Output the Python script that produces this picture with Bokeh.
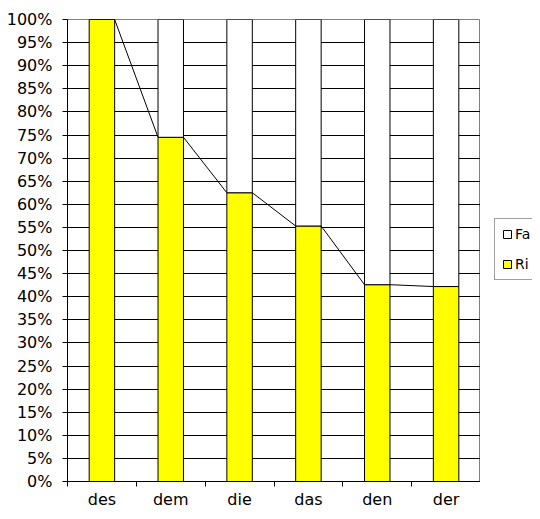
from bokeh.plotting import figure
from bokeh.layouts import row
from bokeh.models import FixedTicker, PrintfTickFormatter, Legend, LegendItem, ColumnDataSource
from bokeh.embed import file_html
from bokeh.resources import INLINE

# ---- data ----
categories = ["des", "dem", "die", "das", "den", "der"]
ri_values = [100.0, 74.5, 62.5, 55.3, 42.6, 42.2]
fa_values = [100.0 - v for v in ri_values]
y_ticks = list(range(0, 101, 5))
series_names = ["Fa", "Ri"]

BAR_W = 0.37
FONT = "DejaVu Sans"
RI_COLOR = "#FFFF00"
FA_COLOR = "white"

xs = list(range(len(categories)))
src = ColumnDataSource(dict(x=xs, ri=ri_values, fa=fa_values,
                            fa_bottom=ri_values,
                            fa_top=[r + f for r, f in zip(ri_values, fa_values)]))

p = figure(width=480, height=511, output_backend="svg", toolbar_location=None,
           x_range=(-0.5, len(categories) - 0.5), y_range=(0, 100),
           min_border_left=67, min_border_right=0, min_border_top=19,
           min_border_bottom=27)
p.background_fill_color = "white"
p.border_fill_color = "white"
p.outline_line_color = "#808080"
p.outline_line_width = 1

# grid
p.xgrid.visible = False
p.ygrid.ticker = FixedTicker(ticks=y_ticks)
p.ygrid.grid_line_color = "black"
p.ygrid.grid_line_width = 1

# bars
r_ri = p.vbar(x="x", bottom=0, top="ri", width=BAR_W, source=src,
              fill_color=RI_COLOR, line_color="black", line_width=1)
r_fa = p.vbar(x="x", bottom="fa_bottom", top="fa_top", width=BAR_W, source=src,
              fill_color=FA_COLOR, line_color="black", line_width=1)

# series lines connecting bar tops
lx, ly = [], []
for i in range(len(categories) - 1):
    lx.append([xs[i] + BAR_W / 2, xs[i + 1] - BAR_W / 2])
    ly.append([ri_values[i], ri_values[i + 1]])
p.multi_line(xs=lx, ys=ly, line_color="black", line_width=1)

# y axis
p.yaxis.ticker = FixedTicker(ticks=y_ticks)
p.yaxis.formatter = PrintfTickFormatter(format="%d%%")
p.yaxis.axis_line_color = "black"
p.yaxis.major_tick_line_color = "black"
p.yaxis.major_tick_out = 5
p.yaxis.major_tick_in = 0
p.yaxis.minor_tick_line_color = None
p.yaxis.major_label_standoff = 10
p.yaxis.major_label_text_font = FONT
p.yaxis.major_label_text_font_size = "16px"
p.yaxis.major_label_text_color = "black"

# x axis: labels at centers, ticks at boundaries
p.xaxis.ticker = FixedTicker(ticks=xs,
                             minor_ticks=[i - 0.5 for i in range(len(categories) + 1)])
p.xaxis.major_label_overrides = {i: c for i, c in enumerate(categories)}
p.xaxis.axis_line_color = "black"
p.xaxis.major_tick_line_color = None
p.xaxis.major_tick_out = 0
p.xaxis.major_tick_in = 0
p.xaxis.minor_tick_line_color = "black"
p.xaxis.minor_tick_out = 5
p.xaxis.minor_tick_in = 0
p.xaxis.major_label_standoff = 3
p.xaxis.major_label_text_font = FONT
p.xaxis.major_label_text_font_size = "16px"
p.xaxis.major_label_text_color = "black"

# legend figure (separate narrow panel to the right); its bar renderers use the
# same data but the view range is placed away from them, so only the legend shows
pl = figure(width=52, height=511, output_backend="svg", toolbar_location=None,
            x_axis_location=None, y_axis_location=None,
            x_range=(-100, -99), y_range=(-100, -99),
            min_border_left=0, min_border_right=0, min_border_top=0,
            min_border_bottom=0)
pl.outline_line_color = None
pl.grid.visible = False
pl.background_fill_color = "white"
pl.border_fill_color = "white"
d_fa = pl.vbar(x="x", bottom="fa_bottom", top="fa_top", width=BAR_W, source=src,
               fill_color=FA_COLOR, line_color="black", line_width=1)
d_ri = pl.vbar(x="x", bottom=0, top="ri", width=BAR_W, source=src,
               fill_color=RI_COLOR, line_color="black", line_width=1)

legend = Legend(items=[LegendItem(label=series_names[0], renderers=[d_fa]),
                       LegendItem(label=series_names[1], renderers=[d_ri])],
                location=(14, 201), orientation="vertical")
legend.border_line_color = "#404040"
legend.border_line_width = 1
legend.background_fill_color = "white"
legend.background_fill_alpha = 1
legend.glyph_width = 10
legend.glyph_height = 10
legend.label_height = 16
legend.label_width = 0
legend.label_standoff = 3
legend.label_text_font = FONT
legend.label_text_font_size = "14px"
legend.label_text_color = "black"
legend.padding = 7
legend.spacing = 14
legend.margin = 0
pl.add_layout(legend, "center")

layout = row(p, pl)
open("out.html", "w").write(file_html(layout, INLINE))
